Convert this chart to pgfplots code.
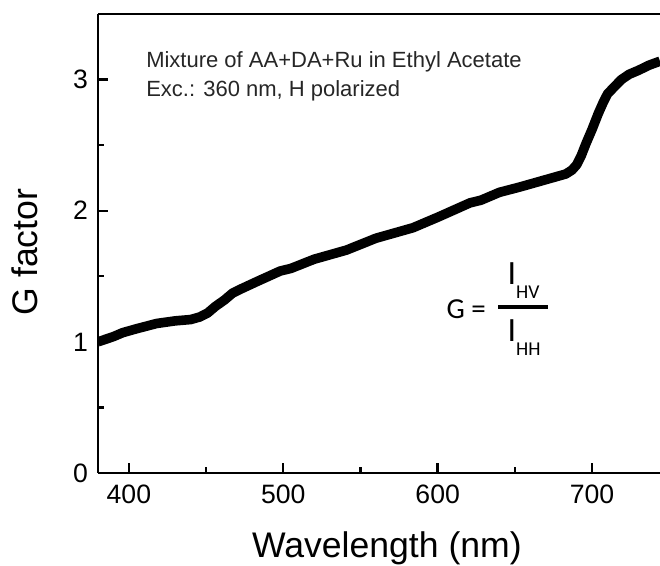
\documentclass[border=0pt]{standalone}
\usepackage{fontspec}
\setmainfont{Liberation Sans}
\newfontfamily\carlito{Carlito}
\usepackage{pgfplots}
\pgfplotsset{compat=1.18}
\begin{document}
\begin{tikzpicture}
\useasboundingbox (-49pt,-46.5pt) rectangle (281pt,236.5pt);
\begin{axis}[
  at={(0,0)}, anchor=south west,
  scale only axis, width=281pt, height=229.5pt,
  xmin=380, xmax=744, ymin=0, ymax=3.5,
  axis x line*=box, axis y line*=left,
  xtick={400,500,600,700}, minor xtick={450,550,650},
  ytick={0,1,2,3}, minor ytick={0.5,1.5,2.5},
  xtick pos=left, ytick pos=left,
  tick align=inside,
  major tick length=5pt, minor tick length=3pt,
  axis line style={line width=1.2pt},
  every tick/.style={line width=1.2pt, black},
  ticklabel style={font=\fontsize{13.3}{15}\selectfont},
  /pgf/number format/assume math mode=true,
  xticklabel shift=2.5pt, yticklabel shift=1.5pt,
  xlabel={Wavelength (nm)}, ylabel={G factor},
  label style={font=\fontsize{17.8}{20}\selectfont},
  xlabel style={at={([yshift=-37.5pt]axis description cs:0.514,0)}, anchor=center},
  ylabel style={at={([xshift=-36.5pt]axis description cs:0,0.4815)}, anchor=center},
]
\addplot[black, line width=4.8pt, line join=round] coordinates {
(380,1.00) (390,1.04) (396,1.07) (405,1.10) (418,1.14) (430,1.16) (440,1.17)
(446,1.19) (451,1.22) (456,1.27) (462,1.32) (467,1.37) (472,1.40) (483,1.46)
(498,1.54) (505,1.56) (520,1.63) (541,1.70) (560,1.79) (584,1.87) (600,1.95)
(621,2.06) (628,2.08) (640,2.14) (653,2.18) (665,2.22) (677,2.26) (683,2.28)
(687,2.31) (690,2.35) (693,2.42) (696,2.51) (700,2.62) (704,2.74) (707,2.82)
(710,2.89) (714,2.94) (719,3.00) (724,3.04) (730,3.07) (737,3.11) (744,3.14)
};
\node[anchor=base west, font=\fontsize{11}{12}\selectfont, text=black!85, inner sep=0] at (axis cs:411,3.095) {Mixture of AA+DA+Ru in Ethyl Acetate};
\node[anchor=base west, font=\fontsize{11}{12}\selectfont, text=black!85, inner sep=0] at (axis cs:411,2.872) {Exc.: 360 nm, H polarized};
\node[anchor=base, font=\carlito\fontsize{14.5}{16}\selectfont, inner sep=0] at (axis cs:618.5,1.181) {G =};
\draw[line width=1.7pt] (axis cs:639.2,1.267) -- (axis cs:671.5,1.267);
\node[anchor=base west, inner sep=0, font=\carlito] at (axis cs:645,1.435) {\fontsize{17}{18}\selectfont I\fontsize{9.8}{11}\selectfont\raisebox{-7pt}{HV}};
\node[anchor=base west, inner sep=0, font=\carlito] at (axis cs:645,1.0) {\fontsize{17}{18}\selectfont I\fontsize{9.8}{11}\selectfont\raisebox{-7pt}{HH}};
\end{axis}
\end{tikzpicture}
\end{document}
